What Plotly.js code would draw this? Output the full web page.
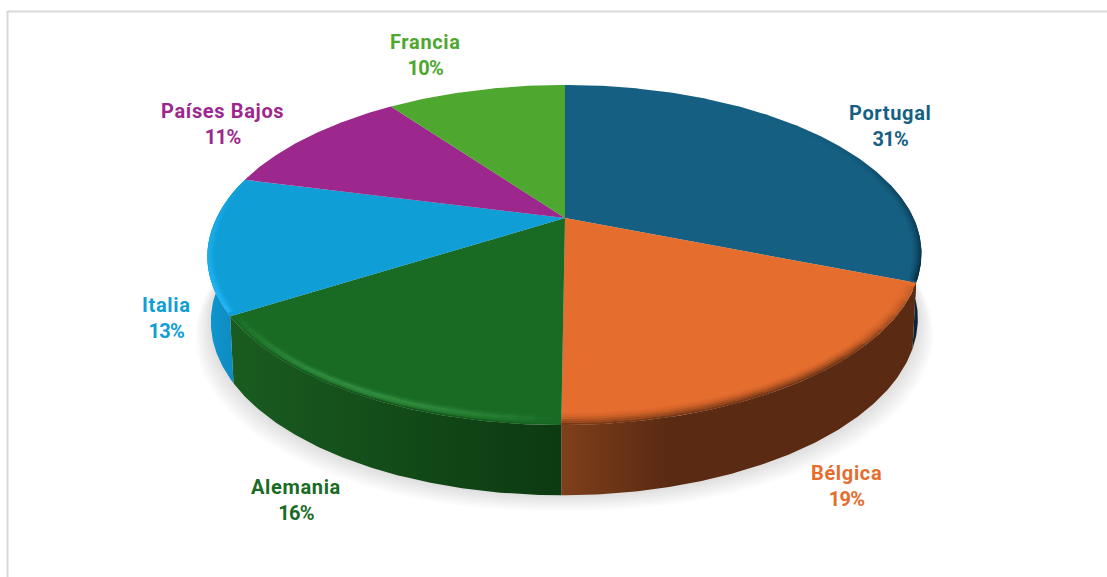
<!DOCTYPE html>
<html><head><meta charset="utf-8">
<script src="https://cdn.plot.ly/plotly-3.0.1.min.js"></script>
<style>html,body{margin:0;padding:0;background:#fff;overflow:hidden}#c{width:1107px;height:577px}.annotation-text{letter-spacing:0.65px}</style>
</head><body><div id="c"></div><script>
const categories=["Portugal","Bélgica","Alemania","Italia","Países Bajos","Francia"];
const values=[31,19,16,13,11,10];
const colors=["#156082","#E56D2E","#196B24","#0F9ED5","#9C288D","#4EA72E"];
const sideColors=[["#123f58","#071f30"],["#7f3f1b","#5a2a12"],["#1a5c20","#0c3a11"],["#0e97d0","#0f86bb"],["#000","#000"],["#000","#000"]];
const labelX=[890,846,296,166,222,425];
const labelY=[126,486,500,318,124,55];

// perspective of the disc
const cx=565,cy=218,a=348.5,b=162,k=0.2176,skew=0.018;
function topPt(t){const u=Math.sin(t),v=-Math.cos(t),w=1-k*v;const Y=b*v/w;
  return [cx+a*u/w-(Y>0?skew*Y:0),cy+Y];}
function basePt(t,g){g=g||0;const p=topPt(t),x=p[0]-cx,y=p[1]-cy;
  return [cx+x*0.99+(x>0?g:-g),cy+y*1.03+64+g];}
const data=[];
const TAU=Math.PI*2;
const total=values.reduce((s,v)=>s+v,0);
function rng(t0,t1,d){const n=Math.max(2,Math.ceil(Math.abs(t1-t0)/(d||0.01)));const r=[];for(let i=0;i<=n;i++)r.push(t0+(t1-t0)*i/n);return r;}
function poly(pts,extra){data.push(Object.assign({type:'scatter',mode:'lines',x:pts.map(p=>p[0]),y:pts.map(p=>p[1]),line:{width:0},fill:'toself',hoverinfo:'skip',showlegend:false},extra));}
function stroke(pts,color,width){data.push({type:'scatter',mode:'lines',x:pts.map(p=>p[0]),y:pts.map(p=>p[1]),line:{width:width,color:color,shape:'linear'},hoverinfo:'skip',showlegend:false});}

// soft floor shadow
for(let g=16;g>=1;g-=1){poly(rng(0,TAU).map(t=>basePt(t,g)),{fillcolor:'rgba(0,0,0,0.009)'});}

// slice spans
const spans=[];let acc=0;values.forEach(v=>{spans.push([acc/total*TAU,(acc+v)/total*TAU]);acc+=v;});

// side wall, visible for the front part of the disc
const tR=1.355,tL=TAU-1.355;
spans.forEach((s,i)=>{const t0=Math.max(s[0],tR),t1=Math.min(s[1],tL);if(t1<=t0)return;
  const r=rng(t0,t1);
  const pts=r.map(topPt).concat(r.slice().reverse().map(t=>basePt(t)));
  poly(pts,{fillcolor:sideColors[i][0],fillgradient:{type:'horizontal',colorscale:i===1?[[0,sideColors[i][0]],[0.3,sideColors[i][1]],[1,sideColors[i][1]]]:[[0,sideColors[i][0]],[1,sideColors[i][1]]]}});
});

// top face
spans.forEach((s,i)=>{poly([[cx,cy]].concat(rng(s[0],s[1]).map(topPt)).concat([[cx,cy]]),{fillcolor:colors[i]});});

// rim shading on the top face
function inset(t,d){const p=topPt(t);const x=p[0]-cx,y=p[1]-cy,l=Math.hypot(x,y);return [p[0]-x/l*d,p[1]-y/l*d];}
function fade(t0,t1,d,rgb,w,alpha,n){n=n||24;for(let i=0;i<n;i++){const f0=i/n,f1=(i+1)/n,m=(f0+f1)/2,al=alpha(m);if(al<=0.004)continue;
  stroke(rng(t0+(t1-t0)*f0,t0+(t1-t0)*f1,0.01).map(t=>inset(t,d)),'rgba('+rgb+','+al.toFixed(3)+')',w);}}
// Bélgica soft edge
[[1,.8],[3,.55],[5,.38],[7,.22],[9,.1],[11,.04]].forEach(e=>fade(spans[1][0]+0.02,spans[1][1],e[0],'93,44,19',2,f=>e[1]*Math.min(1,0.2+f*2.2),14));
// Alemania highlight
const bell=f=>Math.sin(Math.PI*f);
[[1,'15,70,22',2,.55],[3,'70,170,85',2,.2],[5,'70,170,85',2,.42],[7,'70,170,85',2,.5],[9,'70,170,85',2,.25],[11,'70,170,85',2,.08]].forEach(e=>fade(spans[2][0]+0.02,spans[2][1],e[0],e[1],e[2],f=>e[3]*Math.pow(bell(Math.pow(f,0.9)),0.8)));
// Italia bright rim
[[1.5,.85,2.5],[3.5,.6,2.5],[5.5,.3,2.5],[7.5,.12,2.5]].forEach(e=>fade(spans[3][0]+0.02,spans[3][1]-0.1,e[0],'35,185,250',e[2],f=>e[1]*Math.pow(1-f,0.6),16));
// Portugal dark rim
[[0.75,.8],[2.25,.6],[3.75,.4],[5.25,.25],[6.75,.14],[8.25,.06]].forEach(e=>fade(0.75,spans[0][1]-0.01,e[0],'6,30,48',1.7,f=>e[1]*Math.pow(f,1.8),24));

const annotations=categories.map((c,i)=>({xref:'x',yref:'y',x:labelX[i],y:labelY[i],text:c+'<br><span style="letter-spacing:-0.7px">'+values[i]+'%</span>',showarrow:false,align:'center',xanchor:'center',yanchor:'middle',
  font:{family:'Roboto, sans-serif',size:20,weight:700,color:colors[i]}}));

const layout={width:1107,height:577,margin:{l:0,r:0,t:0,b:0},paper_bgcolor:'#fff',plot_bgcolor:'#fff',showlegend:false,
 xaxis:{range:[0,1107],visible:false,fixedrange:true},yaxis:{range:[577,0],visible:false,fixedrange:true},annotations,
 shapes:[{type:'line',xref:'paper',yref:'paper',x0:7.5/1107,x1:7.5/1107,y0:0,y1:1-11.5/577,line:{color:'#d9d9d9',width:2}},
         {type:'line',xref:'paper',yref:'paper',x0:6.5/1107,x1:1,y0:1-11.5/577,y1:1-11.5/577,line:{color:'#d9d9d9',width:2}}]};
Plotly.newPlot('c',data,layout,{displayModeBar:false,staticPlot:true});
</script></body></html>
